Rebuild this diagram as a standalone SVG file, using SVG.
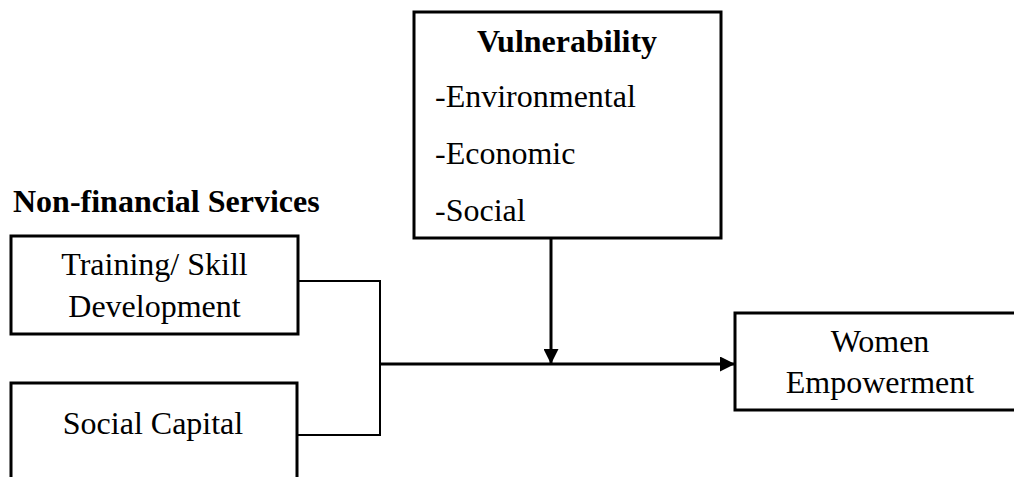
<svg xmlns="http://www.w3.org/2000/svg" width="1014" height="477" viewBox="0 0 1014 477">
<style>
.box{fill:#fff;stroke:#000;stroke-width:3}
.t{font-family:"Liberation Serif","Times New Roman",serif;font-size:32px;fill:#000}
.b{font-weight:bold}
.c{text-anchor:middle}
.ln{fill:none;stroke:#000;stroke-width:2}
.main{fill:none;stroke:#000;stroke-width:3}
</style>
<defs>
<marker id="ah" markerWidth="15" markerHeight="15" viewBox="0 0 15 15" refX="15" refY="7.5" orient="auto" markerUnits="userSpaceOnUse">
<path d="M0,0 L15,7.5 L0,15 Z" fill="#000"/>
</marker>
</defs>
<rect width="1014" height="477" fill="#fff"/>
<text class="t b" x="13" y="212">Non-financial Services</text>
<g id="vulnerability">
<rect class="box" x="414" y="12" width="307" height="226"/>
<text class="t b c" x="567" y="52">Vulnerability</text>
<text class="t" x="435" y="107">-Environmental</text>
<text class="t" x="435" y="164">-Economic</text>
<text class="t" x="435" y="221">-Social</text>
</g>
<g id="training">
<rect class="box" x="11" y="236" width="287" height="98"/>
<text class="t c" x="154.5" y="275">Training/ Skill</text>
<text class="t c" x="154.5" y="317">Development</text>
</g>
<g id="social-capital">
<rect class="box" x="11" y="383" width="286" height="110"/>
<text class="t c" x="153" y="434">Social Capital</text>
</g>
<g id="women">
<rect class="box" x="735" y="313" width="290" height="97"/>
<text class="t c" x="880" y="352">Women</text>
<text class="t c" x="880" y="393">Empowerment</text>
</g>
<g id="connectors">
<path class="ln" d="M298,281 H380 V435 H297"/>
<path class="main" d="M380,364 H735" marker-end="url(#ah)"/>
<path class="main" d="M551,238 V364" marker-end="url(#ah)"/>
</g>
</svg>
